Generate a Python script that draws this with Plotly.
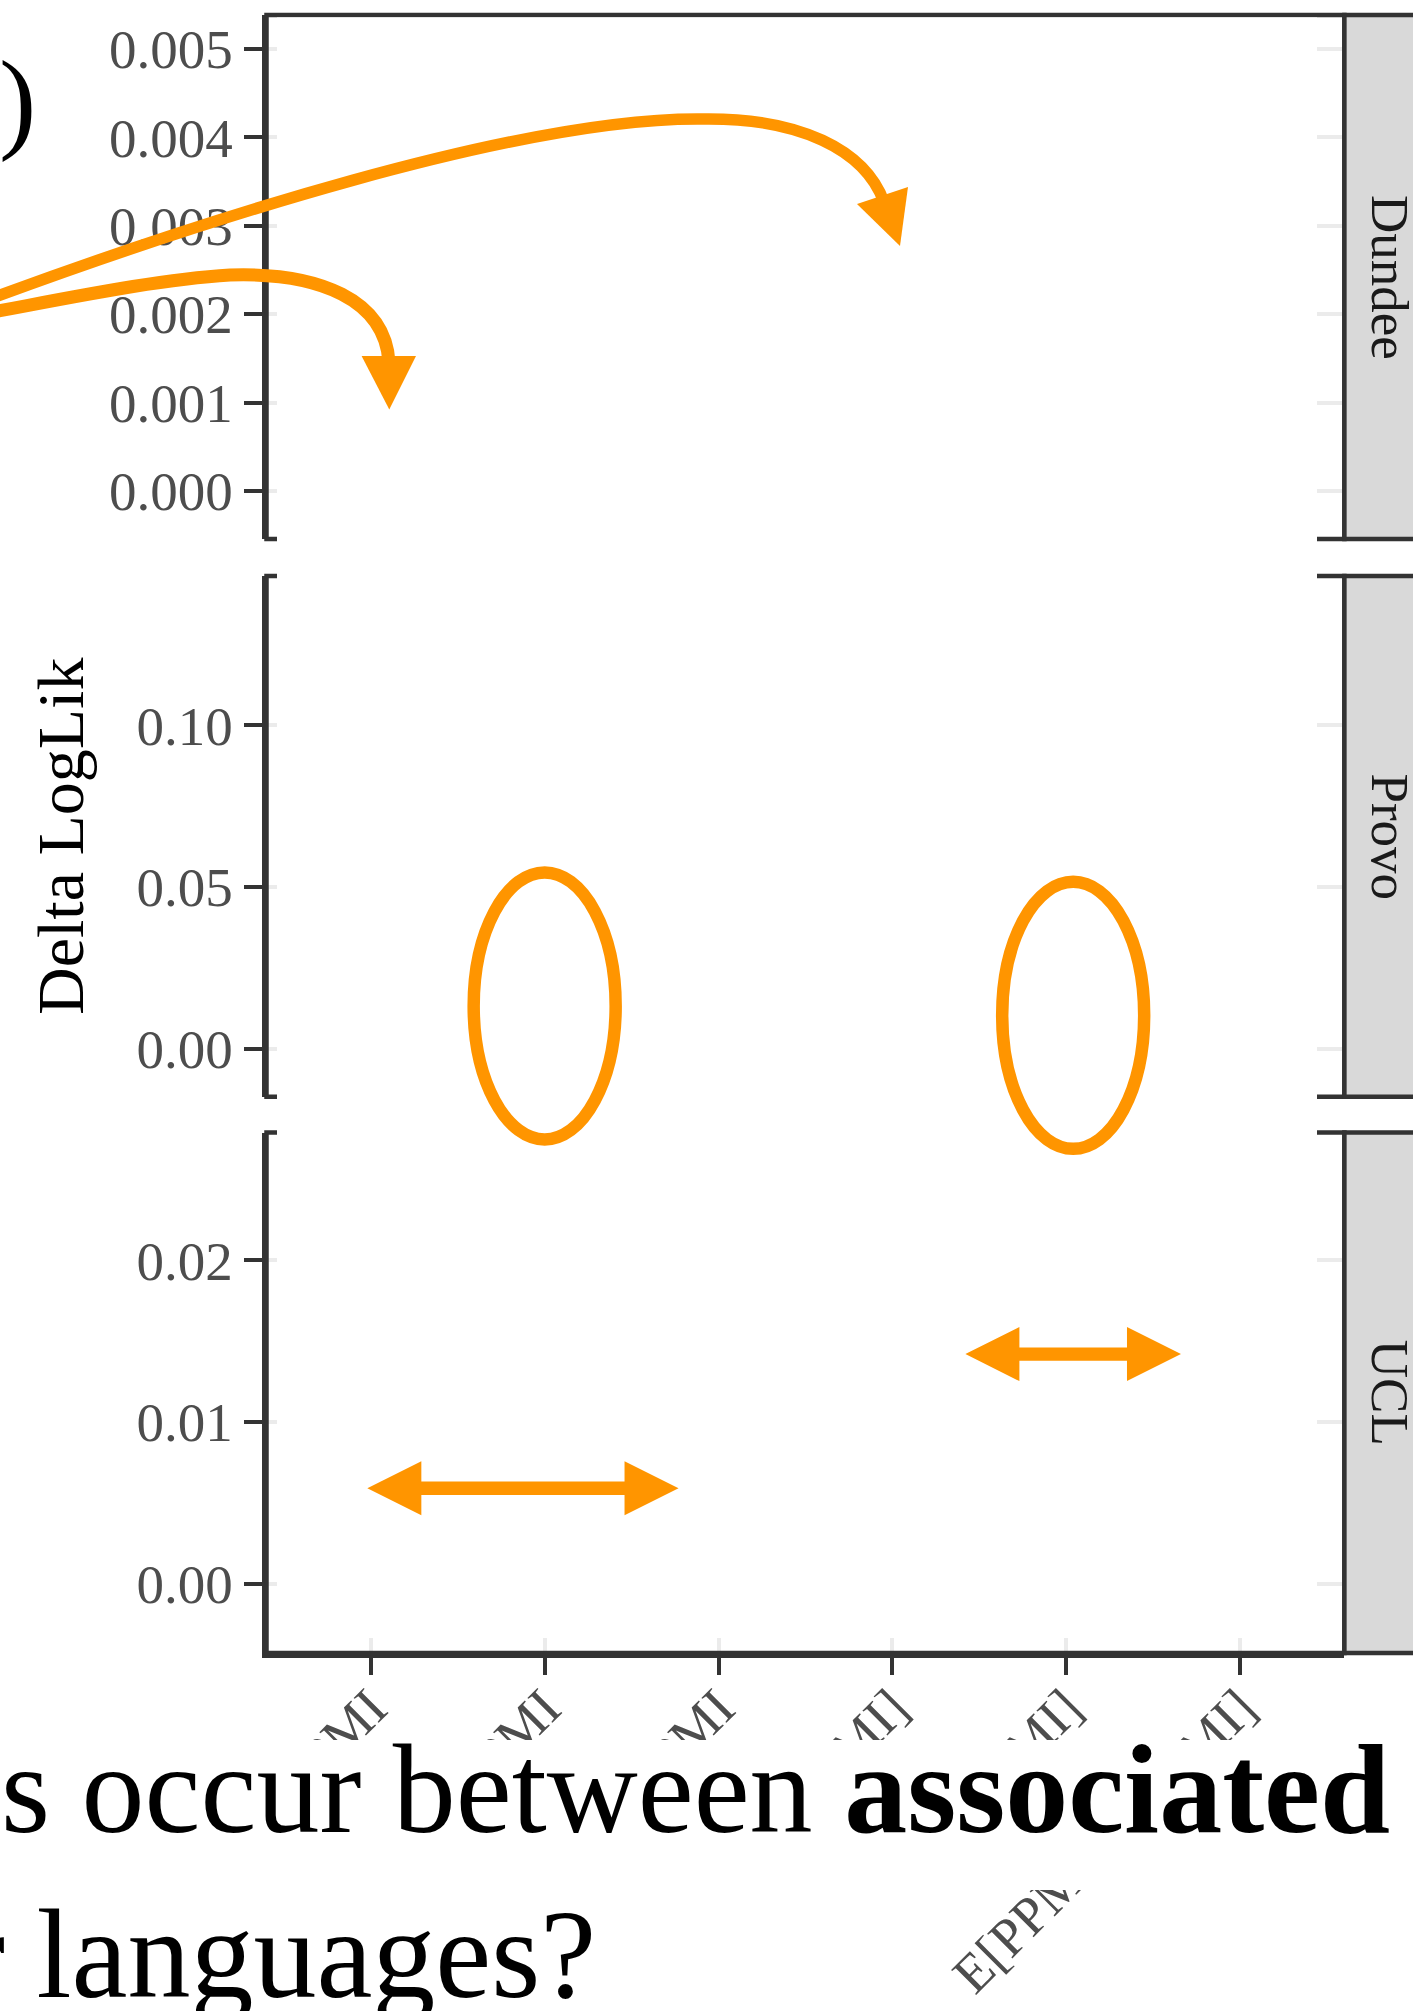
import plotly.graph_objects as go

W, H = 1413, 2011

# ---------------- data ----------------
facets = ["Dundee", "Provo", "UCL"]
x_labels = ["PMI", "PPMI", "NPMI", "E[PMI]", "E[NPMI]", "E[PPMI] / E[PMI]"]
x_pos = [0, 1, 2, 3, 4, 5]

dundee_ticks = [0.000, 0.001, 0.002, 0.003, 0.004, 0.005]
provo_ticks = [0.00, 0.05, 0.10]
ucl_ticks = [0.00, 0.01, 0.02]

dundee_range = [-0.000543, 0.005385]
provo_range = [-0.0149, 0.1462]
ucl_range = [-0.00429, 0.02791]

# highlight marks (slide annotations), in data units
provo_ellipse_x = [1.0, 4.04]
provo_ellipse_y = [0.0132, 0.0103]
ucl_arrow_x0 = [-0.02, 3.42]
ucl_arrow_x1 = [1.77, 4.66]
ucl_arrow_y = [0.0059, 0.0142]

# ---------------- layout geometry (pixels) ----------------
XL, XR = 266.5, 1344.4
P_TOP = [15, 576, 1132.5]
P_BOT = [539, 1096.8, 1653]
X_RANGE = [-0.6, 5.6]

ORANGE = "#FF9500"
DARK = "#333333"
GRID = "#EBEBEB"
FONT = "Liberation Serif"


def px(x):
    return x / W


def py(y):
    return 1 - y / H


def pt(x, y):
    return f"{px(x):.5f},{py(y):.5f}"


cat_px = (XR - XL) / (X_RANGE[1] - X_RANGE[0])


def xpix(v):
    return XL + (v - X_RANGE[0]) * cat_px


def ypix(v, i, rng):
    return P_BOT[i] - (v - rng[0]) / (rng[1] - rng[0]) * (P_BOT[i] - P_TOP[i])


fig = go.Figure()
ranges = [dundee_range, provo_range, ucl_range]
ticks = [dundee_ticks, provo_ticks, ucl_ticks]
fmts = [".3f", ".2f", ".2f"]

for i in range(3):
    sfx = "" if i == 0 else str(i + 1)
    fig.add_trace(go.Scatter(x=[], y=[], xaxis="x" + sfx, yaxis="y" + sfx,
                             showlegend=False, hoverinfo="skip"))
    last = i == 2
    fig.layout["xaxis" + sfx] = dict(
        domain=[px(XL), px(XR)], range=X_RANGE, anchor="y" + sfx, automargin=False,
        tickvals=x_pos, ticktext=x_labels, showticklabels=last,
        ticks="outside" if last else "", ticklen=17, tickwidth=4.3, tickcolor=DARK,
        tickangle=-45, tickfont=dict(family=FONT, size=54, color="#4D4D4D"),
        ticklabelstandoff=-20,
        showgrid=last, gridcolor=GRID, gridwidth=4.3, zeroline=False,
        showline=last, linecolor=DARK, linewidth=4.5,
    )
    fig.layout["yaxis" + sfx] = dict(
        domain=[py(P_BOT[i]), py(P_TOP[i])], range=ranges[i], anchor="x" + sfx,
        automargin=False, tickvals=ticks[i], tickformat=fmts[i],
        ticks="outside", ticklen=18, tickwidth=4.3, tickcolor=DARK,
        tickfont=dict(family=FONT, size=55, color="#4D4D4D"),
        showgrid=True, gridcolor=GRID, gridwidth=4.3, zeroline=False,
        showline=True, linecolor=DARK, linewidth=4.5, ticklabelstandoff=0,
    )

shapes = []
# panel borders
for i in range(3):
    shapes.append(dict(type="rect", xref="paper", yref="paper", layer="above",
                       x0=px(XL), x1=px(XR), y0=py(P_BOT[i]), y1=py(P_TOP[i]),
                       line=dict(color=DARK, width=4.5), fillcolor="rgba(0,0,0,0)"))
# white cover over the panel interiors
shapes.append(dict(type="rect", xref="paper", yref="paper", layer="above",
                   x0=px(277), x1=px(1317), y0=py(1638), y1=py(17.6),
                   line=dict(width=0), fillcolor="white"))
# strips
for i in range(3):
    shapes.append(dict(type="rect", xref="paper", yref="paper", layer="above",
                       x0=px(XR), x1=px(1480), y0=py(P_BOT[i]), y1=py(P_TOP[i]),
                       line=dict(color=DARK, width=4.5), fillcolor="#D9D9D9"))
# white boxes of the slide text covering the x labels
shapes.append(dict(type="rect", xref="paper", yref="paper", layer="above",
                   x0=px(-20), x1=px(1440), y0=py(1890), y1=py(1740),
                   line=dict(width=0), fillcolor="white"))
shapes.append(dict(type="rect", xref="paper", yref="paper", layer="above",
                   x0=px(-20), x1=px(620), y0=py(2030), y1=py(1889),
                   line=dict(width=0), fillcolor="white"))

# ellipses around Provo values (positioned from data through the axis scale)
ex = 71
ey = 133.5
for cx, cy in zip(provo_ellipse_x, provo_ellipse_y):
    X = xpix(cx)
    Y = ypix(cy, 1, provo_range)
    shapes.append(dict(type="circle", xref="paper", yref="paper", layer="above",
                       x0=px(X - ex), x1=px(X + ex), y0=py(Y + ey), y1=py(Y - ey),
                       line=dict(color=ORANGE, width=12.5), fillcolor="rgba(0,0,0,0)"))

# double arrows in UCL panel
sh, hh, hl = 6.7, 27, 54
for x0, x1, y in zip(ucl_arrow_x0, ucl_arrow_x1, ucl_arrow_y):
    X0, X1, Y = xpix(x0), xpix(x1), ypix(y, 2, ucl_range)
    pts = [(X0, Y), (X0 + hl, Y - hh), (X0 + hl, Y - sh), (X1 - hl, Y - sh),
           (X1 - hl, Y - hh), (X1, Y), (X1 - hl, Y + hh), (X1 - hl, Y + sh),
           (X0 + hl, Y + sh), (X0 + hl, Y + hh)]
    path = "M " + " L ".join(pt(a, b) for a, b in pts) + " Z"
    shapes.append(dict(type="path", xref="paper", yref="paper", layer="above", path=path,
                       fillcolor=ORANGE, line=dict(width=0)))

# curved slide arrows (paper coordinates, pixel-measured)
upper = (f"M {pt(-40,310)} C {pt(200,220)} {pt(520,118)} {pt(700,119)} "
         f"C {pt(800,117)} {pt(865,150)} {pt(884,202)}")
lower = (f"M {pt(-40,318)} C {pt(60,300)} {pt(150,280)} {pt(230,275)} "
         f"C {pt(320,272)} {pt(385,300)} {pt(389,362)}")
for p, w in [(upper, 11.5), (lower, 13)]:
    shapes.append(dict(type="path", xref="paper", yref="paper", layer="above", path=p,
                       line=dict(color=ORANGE, width=w), fillcolor="rgba(0,0,0,0)"))
for tri in [[(857, 204), (908, 187), (900, 246)], [(361.6, 356), (416, 356), (389.3, 409.6)]]:
    path = "M " + " L ".join(pt(a, b) for a, b in tri) + " Z"
    shapes.append(dict(type="path", xref="paper", yref="paper", layer="above", path=path,
                       fillcolor=ORANGE, line=dict(width=0)))

annotations = []
# strip labels
for i, name in enumerate(facets):
    annotations.append(dict(text=name, xref="paper", yref="paper", showarrow=False,
                            x=px(1390), y=py((P_TOP[i] + P_BOT[i]) / 2), textangle=90,
                            xanchor="center", yanchor="middle",
                            font=dict(family=FONT, size=53, color="#1A1A1A")))
# y title
annotations.append(dict(text="Delta LogLik", xref="paper", yref="paper", showarrow=False,
                        x=px(60), y=py(837), textangle=-90, xanchor="center", yanchor="middle",
                        font=dict(family=FONT, size=66, color="black")))
# slide text
annotations.append(dict(text="t)", xref="paper", yref="paper", showarrow=False,
                        x=px(38), y=py(100), xanchor="right", yanchor="middle",
                        font=dict(family=FONT, size=112, color="black")))
annotations.append(dict(text="ns occur between <b>associated</b>", xref="paper", yref="paper",
                        showarrow=False, x=px(1392), y=py(1789), xanchor="right", yanchor="middle",
                        font=dict(family=FONT, size=126, color="black")))
annotations.append(dict(text="r languages?", xref="paper", yref="paper",
                        showarrow=False, x=px(598), y=py(1954), xanchor="right", yanchor="middle",
                        font=dict(family=FONT, size=126, color="black")))

fig.update_layout(width=W, height=H, margin=dict(l=0, r=0, t=0, b=0, autoexpand=False),
                  paper_bgcolor="white", plot_bgcolor="white",
                  shapes=shapes, annotations=annotations, showlegend=False)

fig.write_html("out.html")
